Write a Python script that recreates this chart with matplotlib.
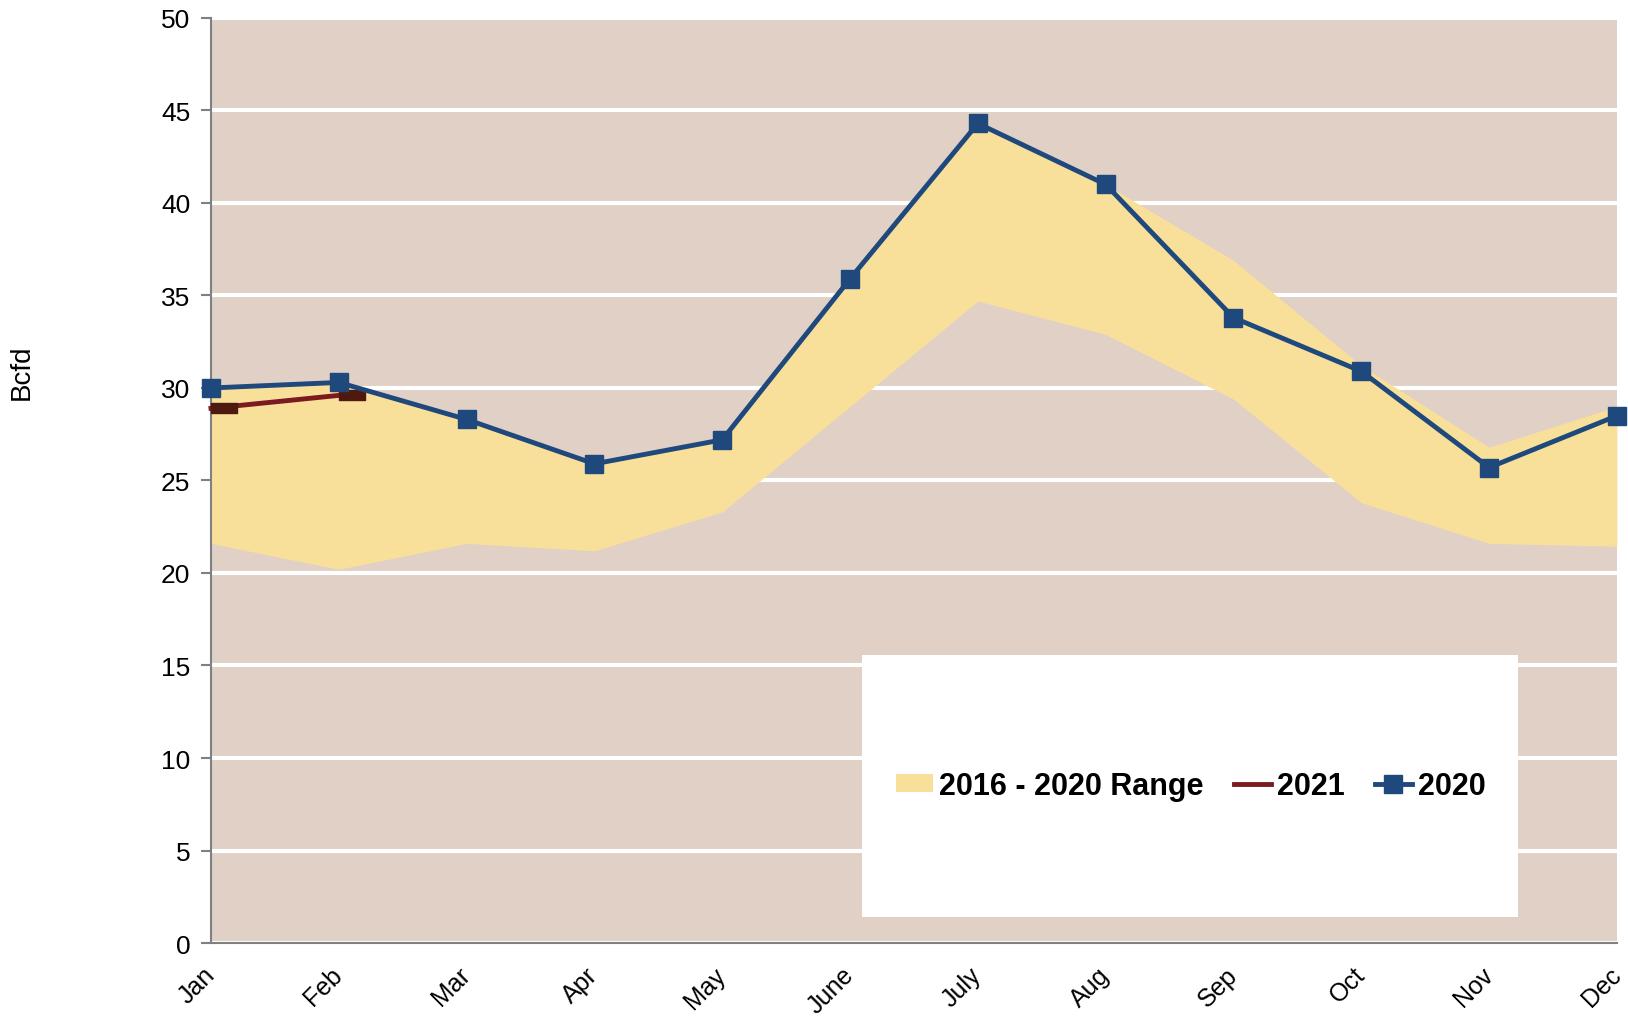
import matplotlib
matplotlib.use('Agg')
import matplotlib.pyplot as plt
from matplotlib.lines import Line2D
from matplotlib.patches import Patch, Rectangle
from matplotlib.path import Path
from matplotlib.markers import MarkerStyle

months = ['Jan', 'Feb', 'Mar', 'Apr', 'May', 'June', 'July', 'Aug', 'Sep', 'Oct', 'Nov', 'Dec']
range_low = [21.6, 20.2, 21.6, 21.2, 23.3, 29.0, 34.7, 32.9, 29.4, 23.8, 21.6, 21.45]
range_high = [30.0, 30.3, 28.3, 25.9, 27.2, 35.9, 44.3, 41.0, 36.9, 31.2, 26.8, 29.0]
y2020 = [30.0, 30.3, 28.3, 25.9, 27.2, 35.9, 44.3, 41.0, 33.8, 30.9, 25.7, 28.5]
y2021 = [28.9, 29.6]

plt.rcParams['font.family'] = ['Liberation Sans', 'DejaVu Sans']

BG = '#E0D0C6'
BAND = '#F9E09A'
BLUE = '#1F497D'
RED = '#7B1A1F'
BROWN = '#4E1A10'

fig = plt.figure(figsize=(16.28, 10.2), dpi=100)
ax = fig.add_axes([0.1296, 0.0745, 0.8636, 0.9069])
ax.set_facecolor(BG)

x = list(range(len(months)))
ax.fill_between(x, range_low, range_high, color=BAND, linewidth=0, zorder=2)

# offset rectangle marker (Excel-style dash drawn right of the point)
rect = Path([(0, -0.18), (1, -0.18), (1, 0.18), (0, 0.18), (0, -0.18)],
            [Path.MOVETO, Path.LINETO, Path.LINETO, Path.LINETO, Path.CLOSEPOLY])
dash_marker = MarkerStyle(rect)

ax.plot(x[:len(y2021)], y2021, color=RED, linewidth=3.5, zorder=3,
        marker=dash_marker, markersize=37, markerfacecolor=BROWN,
        markeredgecolor=BROWN, clip_on=False)
ax.plot(x, y2020, color=BLUE, linewidth=3.5, zorder=4, marker='s',
        markersize=13, markerfacecolor=BLUE, markeredgecolor=BLUE, clip_on=False)

ax.set_xlim(0, 11)
ax.set_ylim(0, 50)
ax.set_yticks(range(0, 51, 5))
ax.set_xticks(x)
ax.set_xticklabels(months, rotation=45, ha='right', va='center',
                   rotation_mode='anchor')
ax.tick_params(axis='y', labelsize=19, length=7, width=1.5, color='#808080', pad=8)
ax.tick_params(axis='x', labelsize=18, length=0, pad=20)
ax.grid(axis='y', color='white', linewidth=3, zorder=1)
ax.set_axisbelow(True)
for s in ['top', 'right']:
    ax.spines[s].set_visible(False)
for s in ['left', 'bottom']:
    ax.spines[s].set_color('#808080')
    ax.spines[s].set_linewidth(1.5)

ax.set_ylabel('Bcfd', fontsize=20, labelpad=0)
ax.yaxis.set_label_coords(-0.125, 0.618)

# white legend panel
ax.add_patch(Rectangle((0.463, 0.028), 0.4666, 0.283, transform=ax.transAxes,
                       facecolor='white', edgecolor='none', zorder=5))
handles = [
    Patch(facecolor=BAND, edgecolor='none'),
    Line2D([0], [0], color=RED, linewidth=3.5),
    Line2D([0], [0], color=BLUE, linewidth=3.5, marker='s', markersize=13),
]
leg = ax.legend(handles, ['2016 - 2020 Range', '2021', '2020'], ncol=3,
                loc='center', bbox_to_anchor=(0.697, 0.17), frameon=False,
                prop={'size': 22, 'weight': 'bold'}, handlelength=1.2,
                handleheight=0.5, handletextpad=0.2, columnspacing=1.0)
leg.set_zorder(6)

fig.savefig('out.png', dpi=100)
